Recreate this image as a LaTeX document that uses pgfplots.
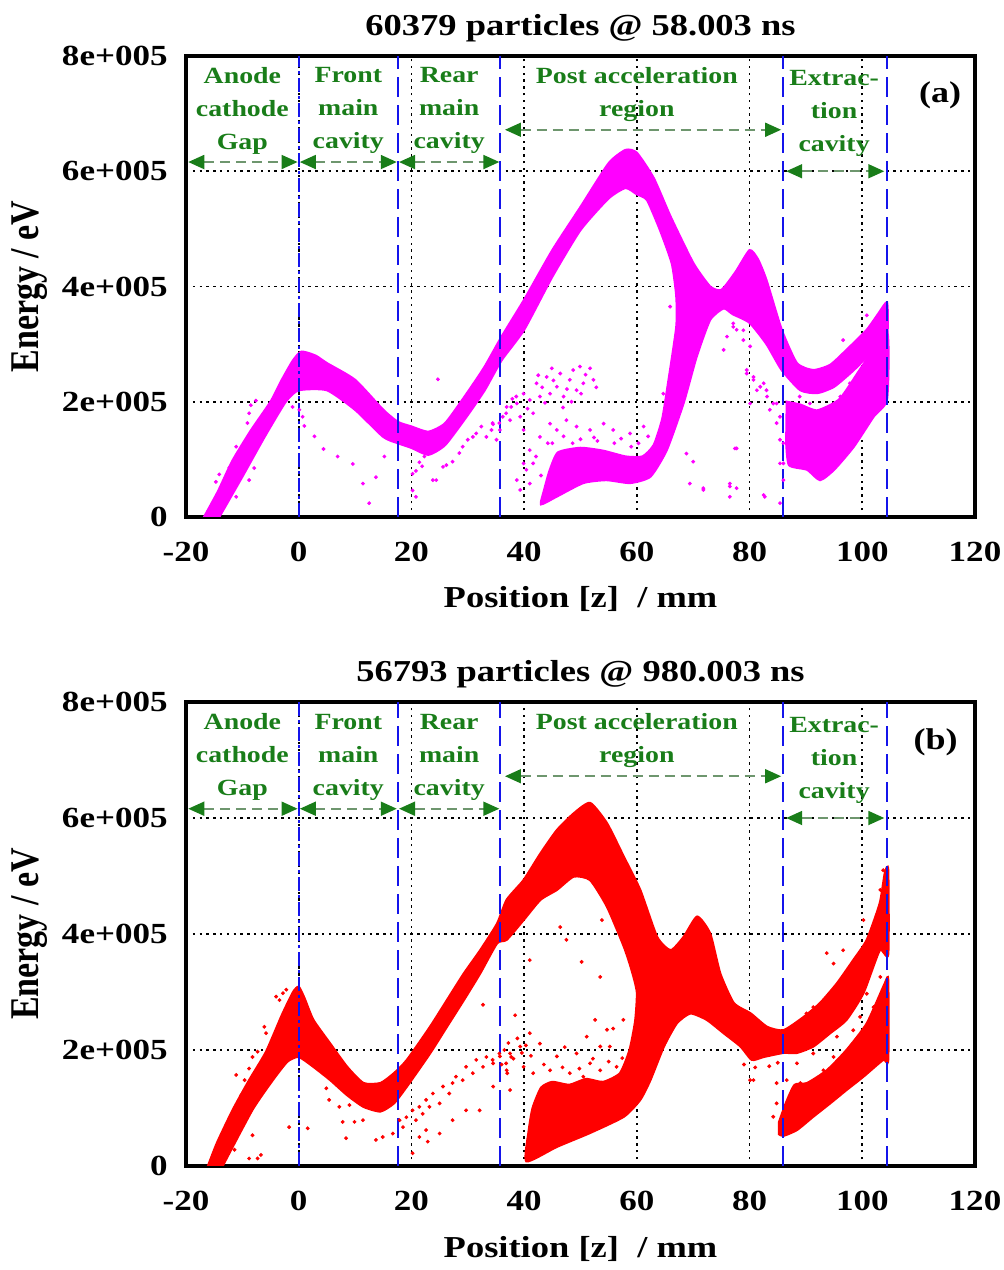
\documentclass[border=0pt]{standalone}
\usepackage{fontspec}
\usepackage{graphicx}
\setmainfont{Liberation Serif}[FakeStretch=1.2]
\newfontfamily\uprightserif{Liberation Serif}
\usepackage{pgfplots}
\pgfplotsset{compat=1.18}
\usetikzlibrary{arrows.meta}

\definecolor{bandA}{RGB}{255,0,255}
\definecolor{bandB}{RGB}{255,0,0}
\definecolor{zoneblue}{RGB}{20,20,235}
\definecolor{labgreen}{RGB}{25,125,25}
\definecolor{shaft}{RGB}{110,150,110}

\pgfplotsset{
  panel/.style={
    scale only axis, width=394.5pt,
    xmin=-20, xmax=120, ymin=0, ymax=800,
    xtick={-20,0,20,40,60,80,100,120},
    xticklabels={-20,0,20,40,60,80,100,120},
    ytick={0,200,400,600,800},
    yticklabels={0,2e+005,4e+005,6e+005,8e+005},
    major tick length=0pt,
    axis line style={line width=2pt, black},
    tick label style={font=\fontsize{14.6}{17}\selectfont\bfseries},
    xticklabel style={anchor=center, yshift=-17.5pt},
    yticklabel style={anchor=east, inner sep=0pt, xshift=-9pt},
    xmajorgrids, ymajorgrids,
    grid style={black, line width=0.8pt, dash pattern=on 1.2pt off 2.2pt},
    title style={at={(axis description cs:0.5,1)}, anchor=base, yshift=4.5pt,
      font=\fontsize{15.2}{17}\selectfont\bfseries},
    xlabel={Position [z]\ \ / mm},
    ylabel={\scalebox{1}[1.2]{\uprightserif\bfseries Energy / eV}},
    xlabel style={at={(axis description cs:0.5,0)}, anchor=base, yshift=-45.5pt,
      font=\fontsize{15.2}{18}\selectfont\bfseries},
    ylabel style={at={(axis description cs:-0.198,0.5)}, anchor=center,
      font=\fontsize{17}{20}\selectfont},
  },
  zone/.style={zoneblue, line width=1pt, dash pattern=on 10pt off 4pt, forget plot},
  zonefine/.style={zoneblue, line width=0.8pt, dash pattern=on 7pt off 2pt on 1.5pt off 2pt, forget plot},
  band/.style={fill=#1, draw=#1, line width=1.1pt, smooth, tension=0.35, forget plot},
  dots/.style={only marks, mark=*, mark size=0.75pt, color=#1, forget plot},
}
\tikzset{
  lab/.style={align=center, text=labgreen, inner sep=0pt,
    font=\fontsize{11.6}{16.5}\selectfont\bfseries},
  tag/.style={inner sep=0pt, font=\fontsize{15}{18}\selectfont\bfseries},
  span/.style={draw=shaft, line width=0.9pt, dash pattern=on 5pt off 3pt,
    {Triangle[length=8pt,width=7pt,color=labgreen,fill=labgreen]}-{Triangle[length=8pt,width=7pt,color=labgreen,fill=labgreen]}},
}

% region boundaries (mm) and their annotations, shared by both panels
\newcommand{\regions}{%
  \addplot[zonefine] coordinates {(0,0) (0,800)};
  \addplot[zone] coordinates {(17.6,0) (17.6,800)};
  \addplot[zone] coordinates {(35.8,0) (35.8,800)};
  \addplot[zone] coordinates {(86,0) (86,800)};
  \addplot[zone] coordinates {(104.3,0) (104.3,800)};
  \draw[span] (axis cs:-19.6,616) -- (axis cs:-0.2,616);
  \draw[span] (axis cs:0.2,616) -- (axis cs:17.4,616);
  \draw[span] (axis cs:17.8,616) -- (axis cs:35.6,616);
  \draw[span] (axis cs:36.6,672) -- (axis cs:85.6,672);
  \draw[span] (axis cs:86.5,600) -- (axis cs:103.9,600);
  \node[lab] at (axis cs:-10,705) {Anode\\cathode\\Gap};
  \node[lab] at (axis cs:8.8,705) {Front\\main\\cavity};
  \node[lab] at (axis cs:26.7,705) {Rear\\main\\cavity};
  \node[lab] at (axis cs:60,733) {Post acceleration\\region};
  \node[lab] at (axis cs:95,700) {Extrac-\\tion\\cavity};
}

\begin{document}
\begin{tikzpicture}
\useasboundingbox (0,0) rectangle (502pt,635pt);

% ---------------- (a) 58.003 ns ----------------
\begin{axis}[panel, height=230.5pt, at={(93pt,376.5pt)}, anchor=south west,
  title={60379 particles @ 58.003 ns}]
% bunch outline: upper edge left to right, then lower edge back, including
% the slow branch that folds back under the post-acceleration hump
\addplot[band=bandA] coordinates {
 (-16.8,0) (-14.3,45) (-11.8,97) (-8.5,150) (-5,200) (-3,238) (-1,272) (0.5,287)
 (3,280) (5,267) (10,238) (15,186) (17.6,165) (20,157) (23,148) (26,163)
 (30,217) (33,261) (36,313) (40,377) (45,463) (50,538) (55,614) (58,637)
 (60,632) (63,588) (66,521) (70,441) (73,400) (75,394) (77.5,425) (80,463)
 (81.5,447) (83,411) (85.7,325) (88.4,267) (91.3,255) (94.3,264) (97.2,290)
 (100.8,325) (103,355) (104.4,372)
 (104.4,318) (102,290) (98.5,255) (95,226) (92,215) (89,220) (85.7,255)
 (83,300) (80,337) (77,352) (75.4,362) (73,342) (70.6,278) (68.3,198)
 (65.3,116) (62.4,70) (58.8,59) (54.6,64) (50.5,59) (45.7,35) (43,22)
 (43.5,45) (44.5,80) (46,112) (50,120) (54,115) (58,105) (61,105) (63,125)
 (64.5,170) (65.5,230) (67,330) (67,383) (66.2,440) (64.1,498) (61.8,550)
 (60,560) (58,571) (55,553) (50,498) (45,417) (40,325) (36,272) (33,220)
 (30,177) (26,125) (23,108) (20,120) (17.6,128) (15,139) (10,186) (5,220)
 (0,220) (-2.3,200) (-6,140) (-10,70) (-14.1,0)} -- cycle;
% low-energy cloud in the extraction cavity
\addplot[band=bandA] coordinates {
 (86.6,200) (89,195) (92,185) (96,205) (100,262) (104.4,322)
 (104.4,205) (102,174) (98.5,122) (95,82) (92.5,64) (90.2,82) (87,90)
 (86.5,130)} -- cycle;
% stray particles
\addplot[dots=bandA] coordinates {
 (-14.7,61) (-14.1,74) (-12.3,86) (-11.1,122) (-9.1,163) (-8.8,180) (-8.5,194)
 (-7.6,202) (-7.9,85) (-8.8,64) (-11.1,35) (-1.1,191) (0.1,186) (0.7,174)
 (1.0,158) (2.8,140) (4.4,118) (6.9,105) (9.6,92) (11.4,58) (12.5,24) (13.7,69)
 (15.2,105) (20.2,75) (20.8,80) (21.4,95) (21.9,88) (22.3,105) (20.2,46)
 (20.8,35) (23.8,64) (24.4,64) (24.7,239) (25.6,87) (26.2,90) (27.3,96)
 (28.5,111) (29.1,122) (30.0,134) (30.9,139) (31.5,145) (32.4,157) (33.3,139)
 (34.4,163) (35.6,163) (36.8,180) (37.7,191) (38.6,209)
 (34.5,161) (35.7,151) (37.5,168) (38.7,197) (39.9,214) (41.0,203) (42.2,232)
 (42.8,209) (44.0,243) (44.6,214) (45.8,226) (46.4,249) (47.0,209) (48.1,238)
 (48.7,255) (49.3,220) (49.9,261) (50.5,232) (51.7,258) (52.3,238) (41.6,180)
 (39.3,174) (36.9,191) (35.1,134) (34.2,151) (39.9,151) (41.0,116) (42.8,139)
 (44.6,162) (45.8,151) (47.5,168) (49.3,157) (51.7,151) (54.1,162) (55.8,151)
 (58.8,145) (61.2,157) (38.7,64) (39.3,47) (40.4,82) (41.0,58) (41.6,93)
 (39.9,93) (43.2,225) (45.2,237) (47.6,222) (50.9,247) (43.7,198) (46.9,190)
 (40.6,188) (48.4,200) (50.1,214) (44.9,258) (42.5,246) (52.8,225) (37.9,205)
 (36.2,174) (47,140) (50,135) (53,132) (56,128) (59,122) (45,128) (62,140)
 (42.1,105) (43.0,72) (44.2,128) (48.6,128) (52.4,138) (57.2,136) (60.3,128)
 (65.9,365) (64.7,214) (68.8,110) (70.0,96) (69.4,58) (71.8,47) (76.5,35)
 (77.7,50) (77.7,119) (76.5,58) (75.4,290) (76.0,313) (77.1,336) (78.9,324)
 (79.5,255) (80.7,243) (81.3,220) (82.5,232) (83.1,209) (84.2,197) (85.4,174)
 (82.5,38) (86.0,128) (86.0,93) (77.1,330) (77.7,325) (78.9,307) (80.1,296)
 (79.5,249) (80.7,238) (80.1,197) (81.9,226) (83.0,220) (83.6,186) (84.8,197)
 (84.8,163) (85.4,134) (85.4,93) (86.0,64) (85.4,24) (77.4,119) (76.5,53)
 (71.8,50) (82.7,35) (96.6,307) (100.8,350) (103.2,330) (103.4,313) (88.9,209)
 (90.7,197) (93.1,220) (96.1,209) (97.8,232) (99.6,226) (102.0,255) (87.8,174)};
\regions
\node[tag] at (axis cs:113.8,732) {(a)};
\end{axis}

% ---------------- (b) 980.003 ns ----------------
\begin{axis}[panel, height=232pt, at={(93pt,52pt)}, anchor=south west,
  title={56793 particles @ 980.003 ns}]
\addplot[band=bandB] coordinates {
 (-16.1,0) (-14.5,40) (-11.7,97) (-8.8,148) (-5.8,197) (-3,260) (-1,300) (0,309)
 (1,290) (2.6,252) (5.6,211) (8.6,171) (11.5,143) (14.5,143) (16.9,160)
 (19.2,183) (23.3,240) (26.3,286) (29.3,332) (32.2,372) (35.2,418) (36.9,459)
 (39.9,493) (42.9,539) (45.8,579) (48.8,608) (51.7,626) (54.7,591) (57.7,533)
 (60.6,476) (63.6,395) (66,372) (68.3,395) (70.7,430) (73,401) (74.8,332)
 (77.2,281) (80.2,263) (83.1,240) (86,234) (89.6,257) (92.5,281) (95.5,315)
 (98.4,355) (100.8,390) (103.1,453) (104,505) (104.6,510)
 (104.6,365) (103.1,372) (100.2,298) (97.2,252) (94.3,229) (91.3,206)
 (88.4,195) (86,195) (82.5,188) (80.4,183) (78.4,206) (75.4,229) (72.4,252)
 (69.5,263) (67.1,246) (64.8,206) (62.4,148) (60.6,114) (57.7,85) (51.7,57)
 (45.8,33) (40.4,8) (40.8,60) (41.5,100) (43,135) (45,145) (48,140) (51,150)
 (54,145) (57,160) (58.7,200) (59.7,250) (60,300) (59,340) (57.7,378)
 (54.7,447) (51.7,493) (48.8,499) (45.8,476) (42.9,459) (39.9,424) (36.9,390)
 (35.2,384) (32.2,332) (29.3,286) (26.3,240) (23.3,194) (19.2,137) (16.9,108)
 (14.5,94) (11.5,102) (8.6,122) (5.6,148) (2.6,171) (0,188) (-2,180)
 (-4.6,148) (-8.2,97) (-13.5,0)} -- cycle;
\addplot[band=bandB] coordinates {
 (85.2,75) (86.5,110) (88,140) (90.2,143) (93.7,165) (97.2,200) (100.8,246)
 (104,315) (104.6,320)
 (104.6,183) (103.7,183) (100.2,154) (97.2,131) (94.3,108) (91.3,85)
 (88.4,62) (86,52) (85.2,55)} -- cycle;
\addplot[dots=bandB] coordinates {
 (-11.1,157) (-10.2,122) (-9.6,148) (-8.8,168) (-8.2,188) (-7.3,197) (-6.1,240)
 (-5.8,229) (-4.0,292) (-3.4,286) (-2.8,298) (-2.2,304) (-11.4,28) (-8.8,13)
 (-7.3,13) (-8.2,53) (-6.7,19)
 (-1.7,67) (1.6,65) (4.9,134) (5.4,114) (7.2,102) (7.8,76) (8.4,48) (9.0,105)
 (9.9,76) (11.4,79) (10.8,125) (13.7,45) (14.9,50) (16.7,56) (17.9,79)
 (18.5,67) (19.1,84) (20.2,96) (20.8,79) (21.4,102) (22.0,90) (22.6,114)
 (23.2,102) (23.8,125) (25.0,108) (25.6,137) (26.7,125) (27.3,143) (27.9,154)
 (29.1,148) (29.7,171) (30.9,160) (31.5,183) (32.7,171) (33.3,188) (34.4,183)
 (35.6,194) (36.8,177) (37.7,188) (21.4,50) (22.9,42) (25.0,56) (20.2,22)
 (22.6,62) (27.3,79) (29.7,96) (32.1,96) (28.5,315) (32.7,278) (25.0,234)
 (36.5,200) (37.2,212) (38.1,185) (38.8,220) (39.6,195) (40.3,208) (41.2,190)
 (36.0,175) (37.0,160)
 (46.4,412) (47.5,390) (41.0,355) (50.2,352) (53.5,326) (53.8,424) (38.4,260)
 (52.6,252) (54.7,235) (55.8,237) (57.6,252) (51.1,223) (53.5,206) (49.3,194)
 (51.7,177) (55.2,206) (45.8,189) (42.8,211) (41.0,229) (39.3,206) (37.5,194)
 (35.7,189) (34.5,177) (36.9,165) (39.9,171) (41.6,160) (44.6,165) (48.1,160)
 (50.5,154) (53.5,165) (56.4,171) (58.8,194) (59.4,217) (34.5,137) (37.5,131)
 (43.5,175) (46.8,170) (49.8,168) (52.2,185) (55.0,180) (57.4,186) (47.2,205)
 (80.7,148) (79,175) (81,170) (83.5,172) (85,178)
 (80.1,148) (93.7,367) (94.9,349) (96.6,372) (100.2,424) (103.2,476)
 (103.7,510) (90.1,263) (91.3,274) (92.5,240) (94.3,246) (95.5,223) (97.2,269)
 (98.4,234) (99.6,257) (100.8,297) (102.0,274) (103.2,326) (88.4,177)
 (86.6,148) (84.8,108) (84.2,85) (85.4,68) (84.8,143) (89.0,143) (91.3,194)
 (93.1,165) (94.9,188) (97.2,171) (99.6,188)};
\regions
\node[tag] at (axis cs:113,731) {(b)};
\end{axis}
\end{tikzpicture}
\end{document}
